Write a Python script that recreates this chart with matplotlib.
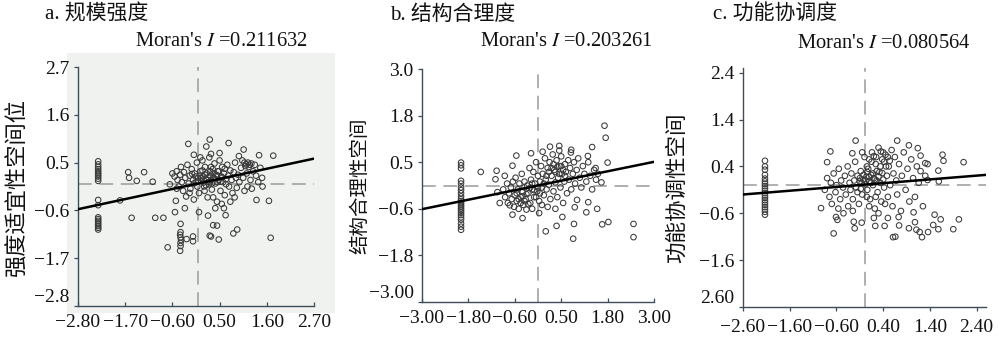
import matplotlib

matplotlib.use("Agg")
import matplotlib.pyplot as plt
import matplotlib.patches as mpatches
import numpy as np

SPINE = "#3e4c58"
DASH = "#9a9a9a"
PT = "#3a3a3a"
PANEL_BG = "#eff2ef"
FONT = ["Liberation Serif", "Noto Sans CJK SC"]

plt.rcParams.update({
    "font.family": FONT,
    "mathtext.fontset": "stix",
    "axes.unicode_minus": True,
})

# ---------------- panel a: 规模强度 ----------------
a_title = "a. 规模强度"
a_ylabel = "强度适宜性空间位"
a_moran = 0.211632
a_xticks = [-2.8, -1.7, -0.6, 0.5, 1.6, 2.7]
a_xticklabels = ["−2.80", "−1.70", "−0.60", "0.50", "1.60", "2.70"]
a_yticks = [-2.8, -1.7, -0.6, 0.5, 1.6, 2.7]
a_yticklabels = ["−2.8", "−1.7", "−0.6", "0.5", "1.6", "2.7"]
a_col_y = [0.53, 0.46, 0.40, 0.35, 0.30, 0.26, 0.22, 0.18, 0.13, 0.08,
           -0.36, -0.48, -0.76, -0.80, -0.84, -0.88, -0.92, -0.96, -1.00, -1.04]
a_col_x = [-2.33] * len(a_col_y)
a_pts = [
    (-1.63, 0.28), (-1.61, 0.15), (-1.43, 0.08), (-1.26, 0.28), (-1.06, 0.06),
    (-1.82, -0.37), (-1.55, -0.77), (-1.00, -0.77), (-0.81, -0.77), (-0.71, -1.45),
    (-0.41, -0.91), (-0.41, -1.10), (-0.42, -1.16), (-0.41, -1.22), (-0.40, -1.28),
    (-0.41, -1.35), (-0.41, -1.42), (-0.42, -1.53),
    (-0.27, -1.26), (-0.12, -1.20), (-0.12, -1.31), (0.02, -0.64), (0.23, -0.72),
    (0.27, -1.18), (0.30, -1.20), (0.35, -0.94), (0.44, -0.95), (0.48, -1.27),
    (0.64, -0.71), (0.82, -1.13), (0.91, -1.04), (1.36, -0.36), (1.65, -0.38),
    (1.69, -1.23), (-0.54, -0.64), (-0.52, -0.38), (-0.31, -0.55), (-0.66, 0.00),
    (1.75, 0.66), (1.49, 0.15), (1.42, 0.67), (1.06, 0.80), (0.71, 0.95),
    (0.27, 1.03), (-0.23, 0.93), (0.19, 0.87), (-0.10, 0.68), (0.05, 0.62),
    (-0.60, 0.25), (-0.55, 0.18), (-0.50, 0.30), (-0.48, 0.10), (-0.45, -0.05),
    (-0.42, 0.22), (-0.40, 0.40), (-0.38, 0.05), (-0.35, -0.15), (-0.33, 0.28),
    (-0.30, 0.15), (-0.28, -0.28), (-0.25, 0.45), (-0.22, 0.02), (-0.20, 0.20),
    (-0.18, -0.10), (-0.15, 0.35), (-0.12, 0.10), (-0.10, -0.35), (-0.08, 0.25),
    (-0.05, 0.05), (-0.03, 0.50), (0.00, 0.15), (0.02, -0.20), (0.05, 0.30),
    (0.07, 0.08), (0.10, 0.55), (0.12, 0.18), (0.14, -0.05), (0.16, 0.40),
    (0.18, 0.12), (0.20, 0.25), (0.22, -0.30), (0.24, 0.05), (0.26, 0.62),
    (0.28, 0.20), (0.30, 0.10), (0.32, -0.12), (0.34, 0.35), (0.36, 0.15),
    (0.38, 0.48), (0.40, 0.02), (0.42, 0.22), (0.44, -0.40), (0.46, 0.30),
    (0.48, 0.10), (0.50, 0.55), (0.52, -0.15), (0.54, 0.18), (0.56, 0.40),
    (0.58, 0.05), (0.60, 0.25), (0.62, -0.25), (0.65, 0.12), (0.68, 0.45),
    (0.70, 0.20), (0.72, -0.05), (0.75, 0.32), (0.78, 0.10), (0.80, -0.20),
    (0.83, 0.28), (0.86, 0.50), (0.88, 0.15), (0.90, -0.08), (0.93, 0.22),
    (0.96, 0.05), (1.00, 0.38), (1.03, 0.55), (1.05, 0.15), (1.08, -0.15),
    (1.10, 0.42), (1.13, 0.25), (1.16, 0.50), (1.20, 0.45), (1.22, 0.10),
    (1.25, -0.10), (1.28, 0.30), (1.32, 0.45), (1.35, 0.20), (1.40, 0.05),
    (1.45, 0.38), (1.50, -0.05), (0.15, -0.15), (0.35, -0.30), (0.55, -0.45),
    (0.25, 0.00), (-0.02, -0.05), (0.45, 0.05), (0.65, 0.00), (0.10, 0.32),
    (-0.20, -0.20), (-0.50, -0.10), (0.85, -0.30), (1.15, -0.05), (0.40, -0.55),
    (0.60, -0.55), (0.75, -0.40), (0.95, 0.65), (0.30, 0.70), (0.50, 0.72),
    # dense core
    (0.00, 0.08), (0.04, 0.20), (0.08, 0.14), (0.12, 0.04), (0.16, 0.22),
    (0.20, 0.10), (0.24, 0.16), (0.28, 0.30), (0.32, 0.02), (0.36, 0.26),
    (0.40, 0.12), (0.44, 0.20), (0.48, 0.30), (0.52, 0.06), (0.56, 0.16),
    (-0.06, 0.18), (-0.10, 0.02), (-0.14, 0.24), (0.18, -0.02), (0.30, 0.40),
    (1.08, 0.50), (1.12, 0.46), (1.18, 0.40), (1.24, 0.48), (0.62, 0.36),
]
a_x = a_col_x + [p[0] for p in a_pts]
a_y = a_col_y + [p[1] for p in a_pts]

# ---------------- panel b: 结构合理度 ----------------
b_title = "b. 结构合理度"
b_ylabel = "结构合理性空间"
b_moran = 0.203261
b_xticks = [-3.0, -1.8, -0.6, 0.6, 1.8, 3.0]
b_xticklabels = ["−3.00", "−1.80", "−0.60", "0.50", "1.80", "3.00"]
b_yticks = [-3.0, -1.8, -0.6, 0.6, 1.8, 3.0]
b_yticklabels = ["−3.00", "−1.8", "−0.6", "0.5", "1.8", "3.0"]
b_col_y = [0.59, 0.52, 0.44, 0.12, 0.05, -0.05, -0.12, -0.20, -0.28, -0.35,
           -0.40, -0.45, -0.50, -0.55, -0.60, -0.65, -0.70, -0.76, -0.82,
           -0.88, -0.98, -1.06, -1.14]
b_col_x = [-1.99] * len(b_col_y)
b_pts = [
    (-1.48, 0.35), (-1.07, 0.38), (-1.10, 0.16), (-0.86, 0.25), (-1.05, -0.17),
    (-0.99, -0.45), (-0.66, -0.75), (-0.66, 0.51), (-0.73, -0.51), (-0.40, -0.84),
    (0.20, -1.18), (0.48, -1.04), (0.63, -0.81), (0.91, -1.37), (0.93, -0.99),
    (0.95, -0.56), (1.01, -0.37), (1.25, -0.69), (1.30, -0.43), (1.53, -0.60),
    (1.66, -1.00), (1.82, -0.94), (2.47, -0.99), (2.47, -1.33), (1.72, 1.54),
    (1.75, 1.23), (1.64, 0.08), (1.80, 0.59), (1.49, 0.45), (1.40, 0.99),
    (1.29, 0.76), (0.86, 0.92), (0.55, 1.02), (0.31, 1.00), (0.12, 0.87),
    (-0.18, 0.83), (0.03, -0.71), (-0.56, 0.77),
    (-0.90, -0.10), (-0.85, -0.30), (-0.80, 0.05), (-0.78, -0.45), (-0.75, -0.20),
    (-0.70, -0.05), (-0.68, -0.35), (-0.65, 0.10), (-0.62, -0.55), (-0.60, -0.25),
    (-0.58, 0.20), (-0.55, -0.40), (-0.52, -0.10), (-0.50, -0.60), (-0.48, 0.05),
    (-0.45, -0.30), (-0.42, 0.30), (-0.40, -0.15), (-0.38, -0.50), (-0.35, 0.10),
    (-0.32, -0.35), (-0.30, -0.62), (-0.28, 0.00), (-0.25, -0.20), (-0.22, 0.45),
    (-0.20, -0.45), (-0.18, 0.15), (-0.15, -0.10), (-0.12, 0.35), (-0.10, -0.30),
    (-0.08, 0.05), (-0.05, 0.60), (-0.02, -0.15), (0.00, 0.25), (0.03, -0.40),
    (0.05, 0.10), (0.08, 0.50), (0.10, -0.05), (0.12, 0.30), (0.15, -0.25),
    (0.18, 0.70), (0.20, 0.15), (0.22, -0.10), (0.25, 0.45), (0.28, 0.02),
    (0.30, 0.60), (0.32, -0.35), (0.35, 0.25), (0.38, 0.80), (0.40, -0.15),
    (0.42, 0.40), (0.45, 0.08), (0.48, 0.65), (0.50, -0.30), (0.52, 0.20),
    (0.55, 0.50), (0.58, -0.05), (0.60, 0.75), (0.62, 0.30), (0.65, -0.45),
    (0.68, 0.10), (0.70, 0.55), (0.72, 0.35), (0.75, -0.20), (0.78, 0.65),
    (0.80, 0.15), (0.83, 0.45), (0.86, -0.10), (0.90, 0.30), (0.93, 0.60),
    (0.96, 0.05), (1.00, 0.40), (1.04, 0.70), (1.08, 0.20), (1.12, -0.05),
    (1.16, 0.50), (1.20, 0.30), (1.25, 0.10), (1.30, 0.60), (1.35, 0.25),
    (1.40, -0.10), (1.45, 0.40), (1.50, 0.15), (1.55, 0.30), (0.25, -0.55),
    (0.45, -0.60), (0.10, -0.50), (-0.15, -0.60), (0.55, 0.90), (0.85, 0.85),
    # dense core
    (-0.55, -0.20), (-0.50, -0.35), (-0.45, -0.45), (-0.40, -0.28), (-0.35, -0.40),
    (-0.30, -0.22), (-0.25, -0.48), (-0.20, -0.05), (-0.15, 0.05), (-0.10, -0.12),
    (0.35, 0.45), (0.40, 0.55), (0.45, 0.35), (0.50, 0.48), (0.55, 0.30),
    (0.60, 0.50), (0.65, 0.40), (0.70, 0.25), (0.28, 0.35), (0.22, 0.25),
    (0.05, -0.20), (-0.05, -0.30), (0.15, 0.05), (0.00, -0.05), (-0.35, -0.05),
]
b_x = b_col_x + [p[0] for p in b_pts]
b_y = b_col_y + [p[1] for p in b_pts]

# ---------------- panel c: 功能协调度 ----------------
c_title = "c. 功能协调度"
c_ylabel = "功能协调性空间"
c_moran = 0.080564
c_xticks = [-2.6, -1.6, -0.6, 0.4, 1.4, 2.4]
c_xticklabels = ["−2.60", "−1.60", "−0.60", "0.40", "1.40", "2.40"]
c_yticks = [-2.6, -1.6, -0.6, 0.4, 1.4, 2.4]
c_yticklabels = ["2.60", "−1.6", "−0.6", "0.4", "1.4", "2.4"]
c_col_y = [0.52, 0.40, 0.33, 0.22, 0.14, 0.08, 0.03, -0.02, -0.07, -0.12,
           -0.17, -0.22, -0.27, -0.32, -0.37, -0.42, -0.47, -0.52, -0.57, -0.63]
c_col_x = [-2.13] * len(c_col_y)
c_pts = [
    (-0.93, -0.49), (-0.80, 0.49), (-0.73, 0.72), (-0.66, -1.03), (-0.61, -0.68),
    (-0.58, -0.74), (-0.26, 0.68), (-0.19, 0.95), (-0.23, -0.78), (-0.21, -0.92),
    (-0.06, -0.80), (0.23, -0.87), (0.43, -0.87), (0.61, -1.11), (0.66, -1.10),
    (0.70, 0.95), (0.73, -0.68), (0.74, -0.86), (0.95, 0.85), (0.95, -0.92),
    (1.05, -0.58), (1.08, -0.79), (1.14, 0.79), (1.11, -0.95), (1.18, -1.00),
    (1.23, -1.11), (1.36, -1.00), (1.50, -0.63), (1.58, -0.94), (1.63, -0.73),
    (1.47, -0.85), (1.67, 0.65), (1.69, 0.52), (1.90, -0.94), (2.02, -0.73),
    (2.12, 0.49), (1.58, 0.31), (1.59, 0.08), (1.35, 0.11), (1.30, 0.47),
    (1.20, 0.63),
    (-0.85, -0.10), (-0.80, 0.15), (-0.75, -0.25), (-0.72, 0.05), (-0.70, -0.40),
    (-0.66, 0.25), (-0.62, -0.15), (-0.60, 0.00), (-0.56, -0.50), (-0.55, 0.35),
    (-0.52, -0.30), (-0.50, 0.10), (-0.46, -0.05), (-0.45, -0.60), (-0.42, 0.20),
    (-0.40, -0.20), (-0.36, 0.40), (-0.35, -0.45), (-0.32, 0.05), (-0.30, -0.10),
    (-0.28, 0.25), (-0.25, -0.30), (-0.22, 0.10), (-0.20, 0.50), (-0.18, -0.05),
    (-0.15, 0.20), (-0.12, -0.40), (-0.10, 0.08), (-0.08, 0.30), (-0.05, -0.20),
    (-0.03, 0.12), (0.00, 0.60), (0.02, 0.02), (0.04, 0.18), (0.06, -0.10),
    (0.08, 0.35), (0.10, 0.08), (0.12, -0.30), (0.14, 0.22), (0.16, 0.70),
    (0.18, 0.00), (0.20, 0.15), (0.22, -0.50), (0.24, 0.45), (0.26, 0.10),
    (0.28, -0.15), (0.30, 0.80), (0.32, 0.28), (0.34, 0.05), (0.36, -0.35),
    (0.38, 0.55), (0.40, 0.12), (0.42, -0.05), (0.45, 0.65), (0.48, 0.20),
    (0.50, -0.25), (0.52, 0.40), (0.55, 0.00), (0.58, 0.75), (0.60, -0.45),
    (0.62, 0.25), (0.65, 0.60), (0.68, 0.10), (0.70, -0.20), (0.74, 0.45),
    (0.78, -0.55), (0.80, 0.20), (0.84, 0.70), (0.88, -0.10), (0.92, 0.35),
    (0.96, -0.35), (1.00, 0.55), (1.04, 0.15), (1.08, -0.25), (1.12, 0.40),
    (1.16, 0.05), (1.20, 0.30), (1.25, -0.45), (1.30, 0.20), (1.35, 0.45),
    (0.05, 0.40), (0.15, 0.50), (0.25, 0.60), (-0.05, 0.70), (0.35, 0.72),
    (0.10, -0.45), (0.30, -0.60), (-0.25, -0.55), (0.50, -0.70), (0.20, -0.70),
    # dense core
    (-0.10, 0.15), (-0.06, 0.05), (-0.02, 0.22), (0.02, 0.10), (0.06, 0.28),
    (0.10, 0.18), (0.14, 0.05), (0.18, 0.25), (0.22, 0.12), (0.26, 0.30),
    (0.30, 0.18), (0.34, 0.40), (0.38, 0.26), (0.42, 0.50), (0.46, 0.40),
    (0.50, 0.60), (0.54, 0.52), (0.40, 0.70), (0.20, 0.62), (0.10, 0.55),
    (-0.15, -0.15), (-0.08, -0.08), (0.05, -0.25), (0.24, -0.25), (0.44, -0.40),
]
c_x = c_col_x + [p[0] for p in c_pts]
c_y = c_col_y + [p[1] for p in c_pts]

# regression intercepts (slope = Moran's I)
intercepts = [0.02, 0.0, 0.01]

fig = plt.figure(figsize=(10, 3.41), dpi=100)
W, H = 1000, 341


def px_axes(left, top, right, bottom):
    return fig.add_axes([left / W, 1 - bottom / H, (right - left) / W, (bottom - top) / H])


# grey panel behind panel a
fig.patches.append(mpatches.Rectangle((67 / W, 1 - 313 / H), (335 - 67) / W, (313 - 53) / H,
                                      transform=fig.transFigure, facecolor=PANEL_BG,
                                      edgecolor="none", zorder=0))

panels = [
    dict(box=(78, 67, 314, 306), x=a_x, y=a_y, xlim=(-2.8, 2.7), ylim=(-2.8, 2.7),
         xt=a_xticks, xtl=a_xticklabels, yt=a_yticks, ytl=a_yticklabels,
         title=a_title, tpos=(45, 15), ylab=a_ylabel, ylab_x=18, ylab_fs=16,
         moran=a_moran, mpos=(221, 42), xdir="in"),
    dict(box=(422, 69, 654, 302), x=b_x, y=b_y, xlim=(-3, 3), ylim=(-3, 3),
         xt=b_xticks, xtl=b_xticklabels, yt=b_yticks, ytl=b_yticklabels,
         title=b_title, tpos=(390, 15), ylab=b_ylabel, ylab_x=360, ylab_fs=14,
         moran=b_moran, mpos=(566, 42), xdir="in"),
    dict(box=(743, 68, 986, 307), x=c_x, y=c_y, xlim=(-2.6, 2.6), ylim=(-2.6, 2.5),
         xt=c_xticks, xtl=c_xticklabels, yt=c_yticks, ytl=c_yticklabels,
         title=c_title, tpos=(713, 15), ylab=c_ylabel, ylab_x=678, ylab_fs=15.5,
         moran=c_moran, mpos=(884, 44), xdir="out"),
]

for i, p in enumerate(panels):
    ax = px_axes(*p["box"])
    ax.set_facecolor("none")
    ax.set_zorder(1)
    ax.set_xlim(*p["xlim"])
    ax.set_ylim(*p["ylim"])
    for s in ("top", "right"):
        ax.spines[s].set_visible(False)
    for s in ("left", "bottom"):
        ax.spines[s].set_color(SPINE)
        ax.spines[s].set_linewidth(1.0)
    ax.set_xticks(p["xt"])
    ax.set_xticklabels(p["xtl"])
    ax.set_yticks(p["yt"])
    ax.set_yticklabels(p["ytl"])
    ax.tick_params(axis="x", direction=p["xdir"], length=3, width=0.9, color=SPINE,
                   labelsize=14, pad=6, labelcolor="#111111")
    ax.tick_params(axis="y", direction="out", length=3, width=0.9, color=SPINE,
                   labelsize=14, pad=3, labelcolor="#111111")
    # lowest y label sits a touch higher so it clears the x labels
    ax.get_yticklabels()[0].set_va("bottom")

    ax.axvline(0, color=DASH, lw=1.1, dashes=(9, 5), zorder=1)
    ax.axhline(0, color=DASH, lw=1.1, dashes=(9, 5), zorder=1)

    ax.scatter(p["x"], p["y"], s=16, facecolors="none", edgecolors=PT,
               linewidths=0.75, zorder=2)

    xs = np.array(p["xlim"])
    ax.plot(xs, p["moran"] * xs + intercepts[i], color="black", lw=1.8, zorder=3)

    fig.text(p["tpos"][0] / W, 1 - p["tpos"][1] / H, p["title"], fontsize=15,
             ha="left", va="center", color="#111111")
    fig.text(p["mpos"][0] / W, 1 - p["mpos"][1] / H,
             "Moran's $I$ =%.6f" % p["moran"], fontsize=14.8,
             ha="center", va="center", color="#111111")
    fig.text(p["ylab_x"] / W, 1 - ((p["box"][1] + p["box"][3]) / 2) / H, p["ylab"],
             fontsize=p["ylab_fs"], rotation=90, ha="center", va="center",
             color="#111111")

fig.savefig("out.png", dpi=100, facecolor="white")
